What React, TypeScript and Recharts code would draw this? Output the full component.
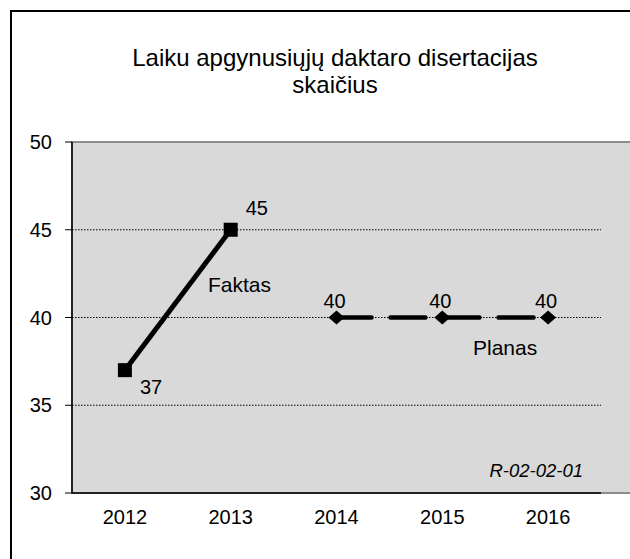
import { LineChart, Line, XAxis, YAxis, ReferenceArea, ReferenceLine, LabelList } from "recharts";

// duomenys
const YEARS = ["2012", "2013", "2014", "2015", "2016"];
const FAKTAS = [37, 45, null, null, null];
const PLANAS = [null, null, 40, 40, 40];
const Y_TICKS = [30, 35, 40, 45, 50];
const GRID_VALUES = [35, 40, 45];
const EDGE_TICKS = [0, 1, 2, 3, 4, 5];
const TITLE_LINES = ["Laiku apgynusiųjų daktaro disertacijas", "skaičius"];
const SERIES_NAMES = ["Faktas", "Planas"];
const CODE = "R-02-02-01";

const FONT = '"Liberation Sans", Arial, sans-serif';

const data = YEARS.map((year, i) => ({ year, faktas: FAKTAS[i], planas: PLANAS[i] }));

function SquareDot(props: any) {
  const { cx, cy, value, index } = props;
  if (value == null || cx == null) return <g key={`sq-${index}`} />;
  return <rect key={`sq-${index}`} x={cx - 7} y={cy - 7} width={14} height={14} fill="#000" />;
}

function DiamondDot(props: any) {
  const { cx, cy, value, index } = props;
  if (value == null || cx == null) return <g key={`dm-${index}`} />;
  return (
    <path
      key={`dm-${index}`}
      d={`M${cx - 8},${cy} L${cx},${cy - 7} L${cx + 8},${cy} L${cx},${cy + 7} Z`}
      fill="#000"
    />
  );
}

function FaktasLabel(props: any) {
  const { x, y, value, index } = props;
  if (value == null) return null;
  // pirmas taskas zemiau, antras virsuje
  const below = index === 0;
  return (
    <text x={x + 15} y={y + (below ? 24 : -15)} fontSize={20} fontFamily={FONT} fill="#000">
      {value}
    </text>
  );
}

function PlanasLabel(props: any) {
  const { x, y, value } = props;
  if (value == null) return null;
  return (
    <text x={x - 2} y={y - 10} textAnchor="middle" fontSize={20} fontFamily={FONT} fill="#000">
      {value}
    </text>
  );
}

export default function App() {
  return (
    <div style={{ position: "absolute", left: 0, top: 0, width: 630, height: 559, background: "#fff" }}>
      <LineChart
        width={630}
        height={559}
        data={data}
        margin={{ top: 142, right: 29, bottom: 26, left: 12 }}
      >
        <ReferenceArea
          x1={0}
          x2={5}
          y1={30}
          y2={50}
          fill="#d9d9d9"
          fillOpacity={1}
          stroke="#8c8c8c"
          strokeWidth={2}
          ifOverflow="visible"
        />
        {GRID_VALUES.map((v) => (
          <ReferenceLine key={v} y={v} stroke="#000" strokeWidth={1} strokeDasharray="1.5 1.5" />
        ))}
        <XAxis
          xAxisId={0}
          type="number"
          domain={[0, 5]}
          ticks={EDGE_TICKS}
          allowDataOverflow
          height={0}
          tick={false}
          axisLine={false}
          tickSize={6}
          tickLine={{ stroke: "#000", strokeWidth: 1 }}
        />
        <XAxis
          xAxisId="cat"
          dataKey="year"
          scale="band"
          height={40}
          tickLine={false}
          tickSize={6}
          tickMargin={11}
          axisLine={{ stroke: "#000", strokeWidth: 1.5 }}
          tick={{ fill: "#000", fontSize: 20, fontFamily: FONT }}
        />
        <YAxis
          domain={[30, 50]}
          ticks={Y_TICKS}
          width={60}
          tickSize={7}
          tickMargin={13}
          axisLine={{ stroke: "#000", strokeWidth: 1.5 }}
          tickLine={{ stroke: "#000" }}
          tick={{ fill: "#000", fontSize: 20, fontFamily: FONT }}
        />
        <Line
          xAxisId="cat"
          dataKey="faktas"
          stroke="#000"
          strokeWidth={5}
          dot={SquareDot}
          activeDot={false}
          connectNulls={false}
          isAnimationActive={false}
        >
          <LabelList dataKey="faktas" content={FaktasLabel} />
        </Line>
        <Line
          xAxisId="cat"
          dataKey="planas"
          stroke="#000"
          strokeWidth={4.5}
          strokeDasharray="35 19"
          strokeLinecap="round"
          dot={DiamondDot}
          activeDot={false}
          connectNulls={false}
          isAnimationActive={false}
        >
          <LabelList dataKey="planas" content={PlanasLabel} />
        </Line>
      </LineChart>
      <svg
        width={630}
        height={559}
        style={{ position: "absolute", left: 0, top: 0, pointerEvents: "none" }}
        fontFamily={FONT}
      >
        <path d="M11,559 V11 H630" fill="none" stroke="#000" strokeWidth={2} />
        <text x={335} y={66} textAnchor="middle" fontSize={24} fill="#000">
          {TITLE_LINES[0]}
        </text>
        <text x={335} y={93} textAnchor="middle" fontSize={24} fill="#000">
          {TITLE_LINES[1]}
        </text>
        <text x={208} y={292} fontSize={21} fill="#000">
          {SERIES_NAMES[0]}
        </text>
        <text x={473} y={355} fontSize={21} fill="#000">
          {SERIES_NAMES[1]}
        </text>
        <text x={583} y={477} textAnchor="end" fontSize={18.5} fontStyle="italic" fill="#000">
          {CODE}
        </text>
      </svg>
    </div>
  );
}
